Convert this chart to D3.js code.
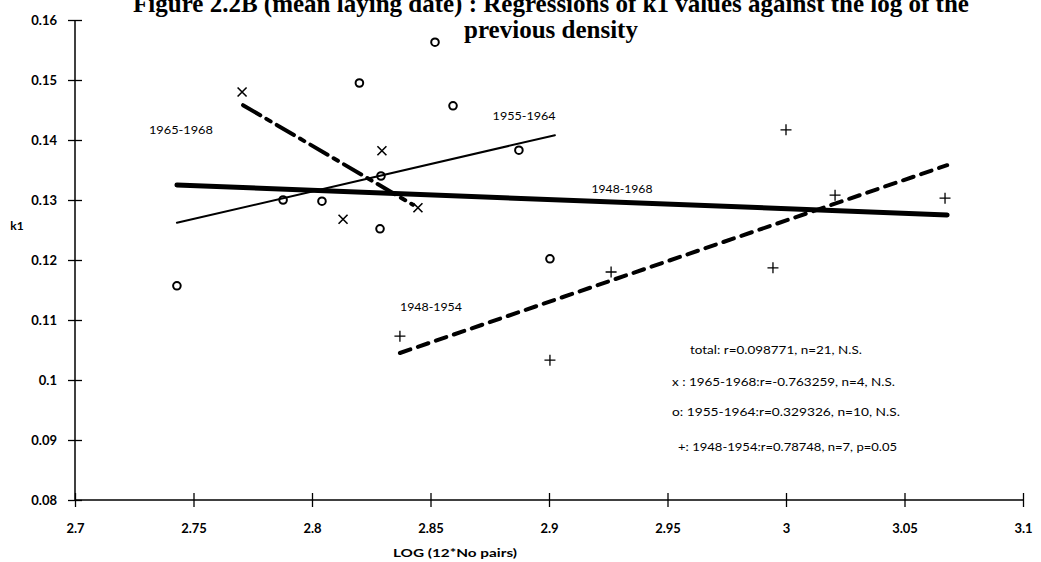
<!DOCTYPE html>
<html><head><meta charset="utf-8">
<script src="https://cdn.jsdelivr.net/npm/d3@7"></script>
<style>
body{margin:0;background:#fff;}
svg{display:block;}
text{fill:#000;}
</style></head>
<body>
<svg id="c" width="1041" height="562"></svg>
<script>
// ---- data ----
const xTicks = [2.7, 2.75, 2.8, 2.85, 2.9, 2.95, 3, 3.05, 3.1];
const xTickLabels = ["2.7","2.75","2.8","2.85","2.9","2.95","3","3.05","3.1"];
const yTicks = [0.08, 0.09, 0.1, 0.11, 0.12, 0.13, 0.14, 0.15, 0.16];
const yTickLabels = ["0.08","0.09","0.1","0.11","0.12","0.13","0.14","0.15","0.16"];

// 'o' : 1955-1964
const circX = [2.743, 2.7878, 2.8042, 2.820, 2.8291, 2.8287, 2.8519, 2.8595, 2.8873, 2.9004];
const circY = [0.1157, 0.1300, 0.1298, 0.1495, 0.1340, 0.1252, 0.1563, 0.1457, 0.1383, 0.1202];
// 'x' : 1965-1968
const crossX = [2.7705, 2.8131, 2.8295, 2.8447];
const crossY = [0.1480, 0.1268, 0.1382, 0.1287];
// '+' : 1948-1954
const plusX = [2.8371, 2.9004, 2.9262, 2.9945, 3.0000, 3.0207, 3.0671];
const plusY = [0.1073, 0.1033, 0.1180, 0.1187, 0.1417, 0.1308, 0.1303];

// regression lines (end points)
const lineTotalX = [2.743, 3.068];   const lineTotalY = [0.1325, 0.1275];
const line5564X  = [2.743, 2.9025];  const line5564Y  = [0.1262, 0.1408];
const line6568X  = [2.7709, 2.8426]; const line6568Y  = [0.1458, 0.1292];
const line4854X  = [2.8371, 3.068];  const line4854Y  = [0.1045, 0.1358];

const periodLabels = ["1965-1968", "1955-1964", "1948-1968", "1948-1954"];
const periodLabelX = [2.7447, 2.8895, 2.9308, 2.8502];
const periodLabelY = [0.1417, 0.1440, 0.1318, 0.1122];

const statLines = [
  "total: r=0.098771, n=21, N.S.",
  "x : 1965-1968:r=-0.763259, n=4, N.S.",
  "o: 1955-1964:r=0.329326, n=10, N.S.",
  "+: 1948-1954:r=0.78748, n=7, p=0.05"
];

const titleLines = [
  "Figure 2.2B (mean laying date) : Regressions of k1 values against the log of the",
  "previous density"
];

// ---- drawing ----
const svg = d3.select("#c");
const x = d3.scaleLinear().domain([2.7, 3.1]).range([75, 1023]);
const y = d3.scaleLinear().domain([0.08, 0.16]).range([500, 20]);
const FONT = "Lato, 'DejaVu Sans', sans-serif";

// title
svg.append("g").selectAll("text").data(titleLines).join("text")
  .attr("x", 551).attr("y", (d,i) => 12 + i*26)
  .attr("text-anchor","middle")
  .style("font-family","'Liberation Serif','Times New Roman',serif")
  .style("font-weight","bold").style("font-size","25px")
  .text(d => d);

// axes
const yAxis = svg.append("g").attr("transform","translate(75,0)")
  .call(d3.axisLeft(y).tickValues(yTicks).tickFormat((d,i)=>yTickLabels[i]).tickSize(7).tickPadding(11));
yAxis.selectAll(".tick line").attr("x1",-7).attr("x2",7).attr("stroke","#000").attr("stroke-width",1.3);
yAxis.select(".domain").attr("stroke","#000").attr("stroke-width",1.5).attr("d","M0,20V500");
yAxis.selectAll("text").style("font-family",FONT).style("font-size","13px").style("font-weight","bold");

const xAxis = svg.append("g").attr("transform","translate(0,500)")
  .call(d3.axisBottom(x).tickValues(xTicks).tickFormat((d,i)=>xTickLabels[i]).tickSize(7).tickPadding(17));
xAxis.selectAll(".tick line").attr("y1",-7).attr("y2",7).attr("stroke","#000").attr("stroke-width",1.3);
xAxis.select(".domain").attr("stroke","#000").attr("stroke-width",1.5).attr("d","M75,0H1023");
xAxis.selectAll("text").style("font-family",FONT).style("font-size","13px").style("font-weight","bold");

// axis titles
svg.append("text").attr("x",17).attr("y",230).attr("text-anchor","middle")
  .style("font-family",FONT).style("font-size","12px").style("font-weight","bold").text("k1");
svg.append("text").attr("x",455).attr("y",557).attr("text-anchor","middle")
  .style("font-family",FONT).style("font-size","12px").style("font-weight","bold")
  .attr("textLength",124).attr("lengthAdjust","spacingAndGlyphs").text("LOG (12*No pairs)");

// regression lines
const line = d3.line().x(d=>x(d[0])).y(d=>y(d[1]));
const lines = [
  {xs: lineTotalX, ys: lineTotalY, w: 5,   dash: null},
  {xs: line5564X,  ys: line5564Y,  w: 2,   dash: null},
  {xs: line6568X,  ys: line6568Y,  w: 4,   dash: "20,7,5,7"},
  {xs: line4854X,  ys: line4854Y,  w: 4,   dash: "11,8"}
];
svg.append("g").selectAll("path").data(lines).join("path")
  .attr("d", d => line(d.xs.map((v,i)=>[v, d.ys[i]])))
  .attr("fill","none").attr("stroke","#000")
  .attr("stroke-width", d=>d.w).attr("stroke-linecap","round")
  .attr("stroke-dasharray", d=>d.dash);

// markers
svg.append("g").selectAll("circle").data(circX.map((v,i)=>[v,circY[i]])).join("circle")
  .attr("cx",d=>x(d[0])).attr("cy",d=>y(d[1])).attr("r",3.8)
  .attr("fill","none").attr("stroke","#000").attr("stroke-width",2);

const cross = d3.symbol().type(d3.symbolX).size(70);
svg.append("g").selectAll("path").data(crossX.map((v,i)=>[v,crossY[i]])).join("path")
  .attr("transform",d=>`translate(${x(d[0])},${y(d[1])})`)
  .attr("d", d3.line()([[-4.5,-4.5],[4.5,4.5]]) + d3.line()([[-4.5,4.5],[4.5,-4.5]]))
  .attr("fill","none").attr("stroke","#000").attr("stroke-width",1.6);

svg.append("g").selectAll("path").data(plusX.map((v,i)=>[v,plusY[i]])).join("path")
  .attr("transform",d=>`translate(${x(d[0])},${y(d[1])})`)
  .attr("d", "M-5.5,0H5.5M0,-5.5V5.5")
  .attr("fill","none").attr("stroke","#000").attr("stroke-width",1.3);

// period labels
const labelW = [64, 63, 61, 62];
svg.append("g").selectAll("text").data(periodLabels).join("text")
  .attr("x",(d,i)=>x(periodLabelX[i])).attr("y",(d,i)=>y(periodLabelY[i])+4)
  .attr("text-anchor","middle")
  .attr("textLength",(d,i)=>labelW[i]).attr("lengthAdjust","spacingAndGlyphs")
  .style("font-family",FONT).style("font-size","12px")
  .text(d=>d);

// statistics block
const statX = [690, 672, 672, 678];
const statY = [354, 386, 416, 451];
const statW = [172, 223, 228, 219];
svg.append("g").selectAll("text").data(statLines).join("text")
  .attr("x",(d,i)=>statX[i]).attr("y",(d,i)=>statY[i])
  .attr("textLength",(d,i)=>statW[i]).attr("lengthAdjust","spacingAndGlyphs")
  .style("font-family",FONT).style("font-size","12px")
  .text(d=>d);
</script>
</body></html>
